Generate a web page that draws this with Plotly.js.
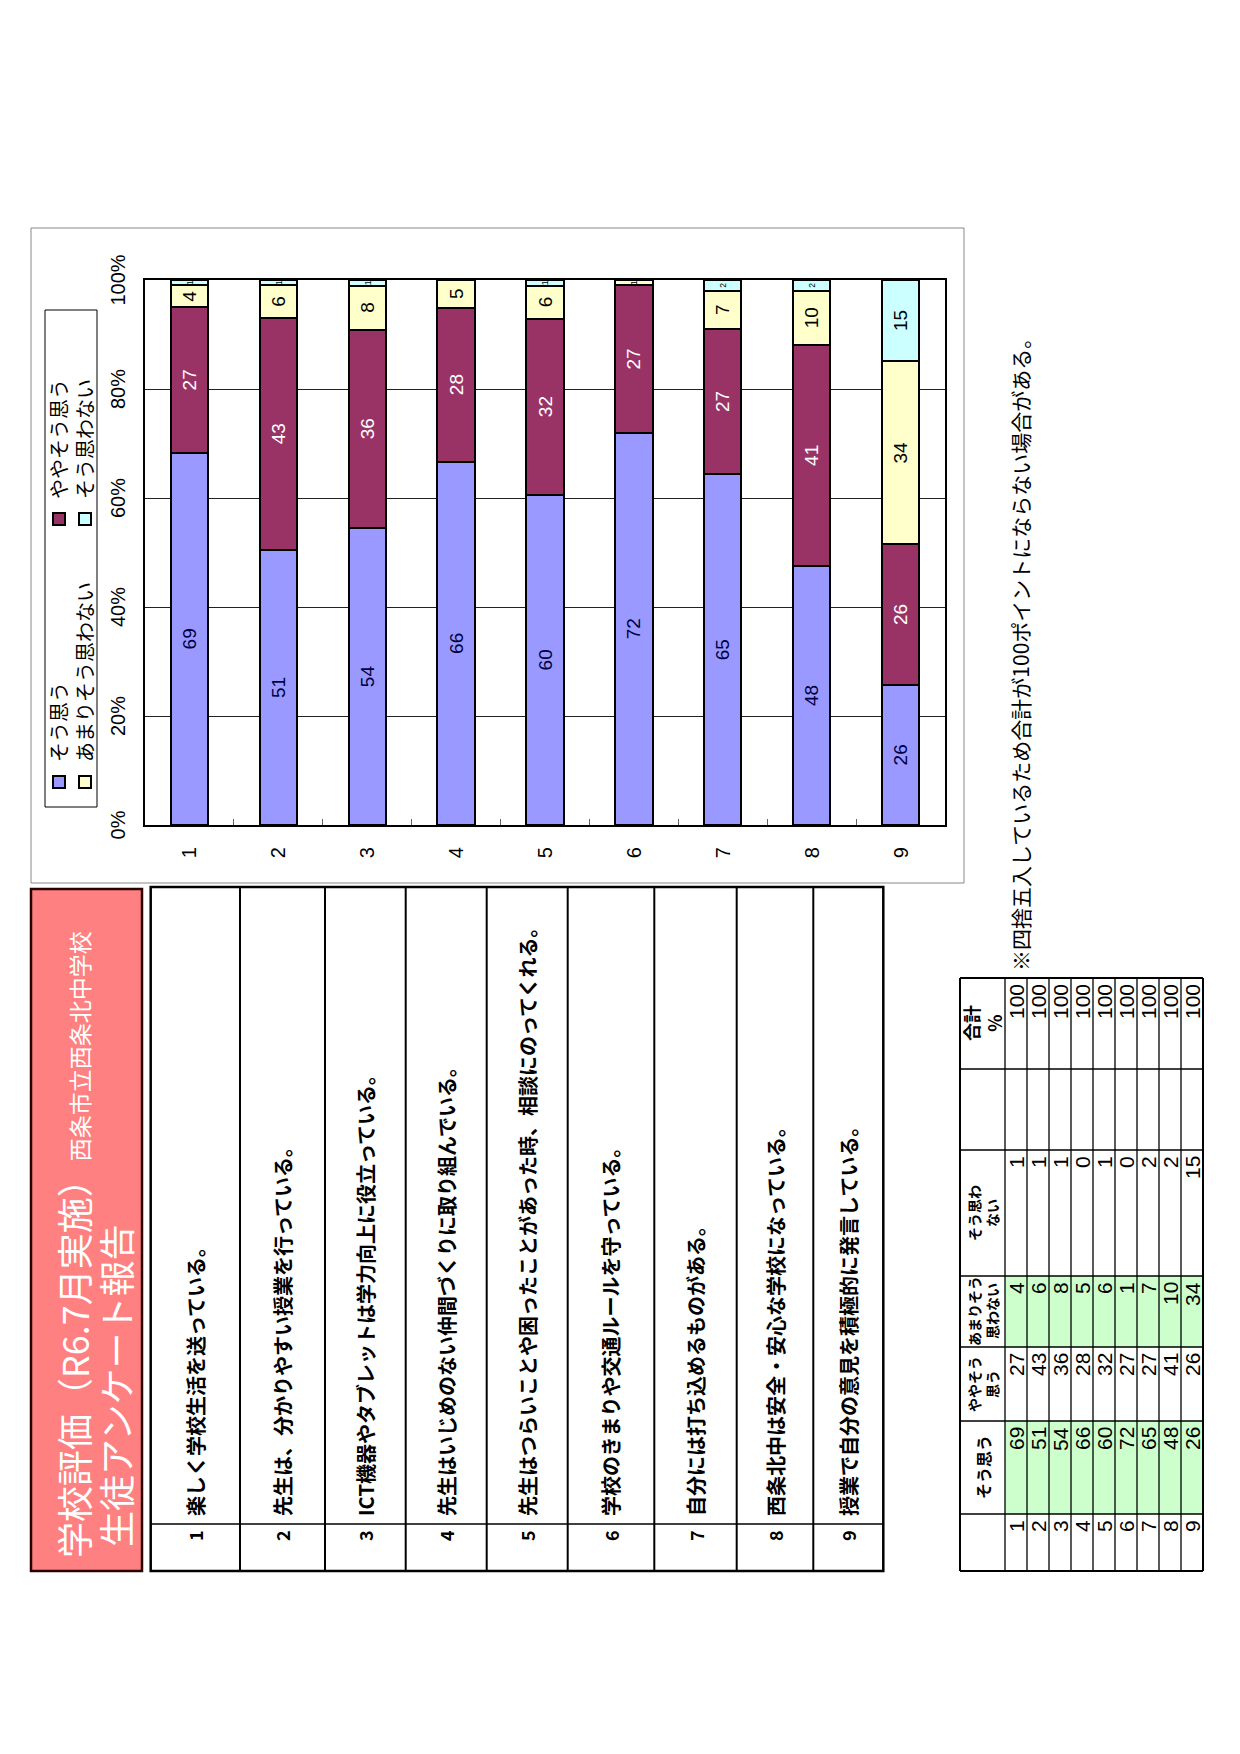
<!DOCTYPE html>
<html><head><meta charset="utf-8">
<script src="https://cdn.plot.ly/plotly-3.0.1.min.js"></script>
<style>
html,body{margin:0;padding:0;background:#fff;}
#page{position:relative;width:1240px;height:1754px;overflow:hidden;background:#fff;}
#chart{position:absolute;left:0;top:0;width:1754px;height:1240px;transform-origin:0 0;transform:rotate(-90deg) translate(-1754px,0);}
</style></head><body>
<div id="page"><div id="chart"></div></div>
<script>
// ---------- data ----------
const categories = ['1','2','3','4','5','6','7','8','9'];
const seriesNames = ['そう思う','ややそう思う','あまりそう思わない','そう思わない'];
const soOmou = [69,51,54,66,60,72,65,48,26];
const yayaSoOmou = [27,43,36,28,32,27,27,41,26];
const amariSoOmowanai = [4,6,8,5,6,1,7,10,34];
const soOmowanai = [1,1,1,0,1,0,2,2,15];
const totals = [100,100,100,100,100,100,100,100,100];
const questions = [
  '楽しく学校生活を送っている。',
  '先生は、分かりやすい授業を行っている。',
  'ICT機器やタブレットは学力向上に役立っている。',
  '先生はいじめのない仲間づくりに取り組んでいる。',
  '先生はつらいことや困ったことがあった時、相談にのってくれる。',
  '学校のきまりや交通ルールを守っている。',
  '自分には打ち込めるものがある。',
  '西条北中は安全・安心な学校になっている。',
  '授業で自分の意見を積極的に発言している。'
];
const tableHeaders = ['', 'そう思う', 'ややそう<br>思う', 'あまりそう<br>思わない', 'そう思わ<br>ない', '', '合計<br>%'];
const percentTicks = [0,20,40,60,80,100];
const titleMain = '学校評価（R6.7月実施）';
const titleSchool = '西条市立西条北中学校';
const titleSub = '生徒アンケート報告';
const noteText = '※四捨五入しているため合計が100ポイントにならない場合がある。';

// ---------- styling / layout helpers ----------
const W = 1754, H = 1240;
const px = v => v / W;
const py = v => 1 - v / H;
const CJK = '"Noto Sans CJK JP", "Noto Sans", sans-serif';
const NUM = '"Liberation Sans Narrow", "Arial Narrow", "Liberation Sans", Arial, sans-serif';
const NUMW = '"Liberation Sans", Arial, sans-serif';
const seriesColors = ['#9999FF','#993366','#FFFFCC','#CCFFFF'];
const seriesTextColors = ['#000040','#FFFFFF','#000000','#000000'];

const shapes = [], annotations = [];
function rect(x0,y0,x1,y1,opt){ shapes.push(Object.assign({type:'rect', xref:'paper', yref:'paper', x0:px(x0), x1:px(x1), y0:py(y1), y1:py(y0), layer:'below'}, opt)); }
function hline(x0,x1,y,color,width){ shapes.push({type:'line', xref:'paper', yref:'paper', x0:px(x0), x1:px(x1), y0:py(y), y1:py(y), line:{color:color, width:width}}); }
function vline(x,y0,y1,color,width){ shapes.push({type:'line', xref:'paper', yref:'paper', x0:px(x), x1:px(x), y0:py(y0), y1:py(y1), line:{color:color, width:width}}); }
function label(x,y,t,opt){ annotations.push(Object.assign({xref:'paper', yref:'paper', x:px(x), y:py(y), text:t, showarrow:false, yanchor:'middle'}, opt)); }

// Title box
rect(183,31,865,142,{fillcolor:'#FF8080', line:{color:'#2a0000', width:2.5}});
label(194,73, titleMain + '<span style="font-size:23px">' + titleSchool + '</span>', {xanchor:'left', font:{family:CJK, size:36, color:'#FFFFFF'}});
label(205,115, titleSub, {xanchor:'left', font:{family:CJK, size:36, color:'#FFFFFF'}});

// Questions table (row edges are page layout, in landscape pixels)
const qRowEdges = [150.7, 240, 325, 405.7, 486.7, 567.7, 654.3, 736.7, 813.3, 883.3];
const qLeft = 183, qRight = 867, qNumSep = 230;
rect(qLeft,qRowEdges[0],qRight,qRowEdges[qRowEdges.length-1],{line:{color:'#000', width:2.5}});
for (let i=1;i<qRowEdges.length-1;i++) hline(qLeft,qRight,qRowEdges[i],'#000',2);
vline(qNumSep,qRowEdges[0],qRowEdges[qRowEdges.length-1],'#000',1.5);
questions.forEach((q,i)=>{
  const yc = (qRowEdges[i] + qRowEdges[i+1]) / 2;
  label(qNumSep-4, yc, categories[i], {xanchor:'right', font:{family:CJK, size:18, color:'#000', weight:'bold'}});
  label(qNumSep+6, yc, q, {xanchor:'left', font:{family:CJK, size:20, color:'#000', weight:'bold'}});
});

// Data table
const colX = [183, 240, 333, 407, 478, 604, 685, 776];
const tTop = 960, hdrH = 45, rowH = 22;
const nRows = categories.length;
const tBot = tTop + hdrH + rowH*nRows;
const tableCols = [categories, soOmou, yayaSoOmou, amariSoOmowanai, soOmowanai, null, totals];
[1,3].forEach(c => rect(colX[c], tTop+hdrH, colX[c+1], tBot, {fillcolor:'#CCFFCC', line:{width:0}}));
hline(colX[0], colX[colX.length-1], tTop, '#000', 2);
for (let r=0;r<=nRows;r++) hline(colX[0], colX[colX.length-1], tTop+hdrH+r*rowH, '#000', r===nRows?2:1.3);
colX.forEach((x,i)=> vline(x, tTop, tBot, '#000', (i===0||i===colX.length-1)?2:1.3));
tableHeaders.forEach((h,c)=>{
  if(!h) return;
  const isTotal = (c === tableHeaders.length-1);
  const multi = h.indexOf('<br>') >= 0;
  const size = isTotal ? 18 : (multi ? 14 : 16);
  label((colX[c]+colX[c+1])/2, tTop+hdrH/2, '<b>'+h+'</b>', {xanchor:'center', align:'center', font:{family:CJK, size:size, color:'#000'}});
});
tableCols.forEach((col,c)=>{
  if(!col) return;
  col.forEach((v,r)=>{
    label(colX[c+1]-4, tTop+hdrH+(r+0.5)*rowH, String(v), {xanchor:'right', font:{family:NUM, size:21, color:'#000'}});
  });
});

// Note
label(781, 1020, noteText, {xanchor:'left', font:{family:CJK, size:21, color:'#000'}});

// Chart border and legend box
rect(871,31,1526,964,{line:{color:'#888', width:1}});
rect(947,45,1444,97,{line:{color:'#000', width:1}});

// ---------- bars ----------
const seriesValues = [soOmou, yayaSoOmou, amariSoOmowanai, soOmowanai];
const traces = seriesValues.map((vals,k)=>({
  type:'bar', orientation:'h', name: seriesNames[k],
  y: categories, x: vals,
  text: vals.map(String), textposition:'inside', insidetextanchor:'middle', textangle:0,
  textfont:{family:NUMW, size:19, color: seriesTextColors[k]},
  marker:{color: seriesColors[k], line:{color:'#000', width:2}},
  legend: k < 2 ? 'legend' : 'legend2',
  hoverinfo:'skip'
}));

const legendBase = {orientation:'h', xanchor:'left', yanchor:'middle', entrywidth:218, entrywidthmode:'pixels',
  font:{family:CJK, size:20, color:'#000'}, bgcolor:'rgba(0,0,0,0)', borderwidth:0, traceorder:'normal'};

const layout = {
  width: W, height: H, autosize:false,
  margin:{l:0, r:0, t:0, b:0, pad:0},
  paper_bgcolor:'#FFFFFF', plot_bgcolor:'#FFFFFF',
  barmode:'stack', barnorm:'percent', bargap:0.58,
  showlegend:true,
  legend: Object.assign({x:px(952), y:py(59)}, legendBase),
  legend2: Object.assign({x:px(952), y:py(85)}, legendBase),
  xaxis:{domain:[px(929), px(1474)], range:[0,100], side:'top',
    tickvals: percentTicks, ticktext: percentTicks.map(v=>v+'%'),
    showgrid:true, gridcolor:'#222', gridwidth:1, zeroline:false,
    showline:true, linecolor:'#000', linewidth:2, mirror:true, ticks:'',
    tickfont:{family:NUM, size:20, color:'#000'}, ticklabelstandoff:10, fixedrange:true},
  yaxis:{domain:[py(945), py(145)], type:'category', autorange:'reversed',
    showline:true, linecolor:'#000', linewidth:2, mirror:true, showgrid:false, zeroline:false,
    ticks:'inside', tickson:'boundaries', ticklen:6, tickcolor:'#666', tickwidth:1,
    tickfont:{family:NUM, size:20, color:'#000'}, ticklabelstandoff:16, fixedrange:true},
  shapes: shapes,
  annotations: annotations
};

Plotly.newPlot('chart', traces, layout, {staticPlot:true, displayModeBar:false});
</script>
</body></html>
